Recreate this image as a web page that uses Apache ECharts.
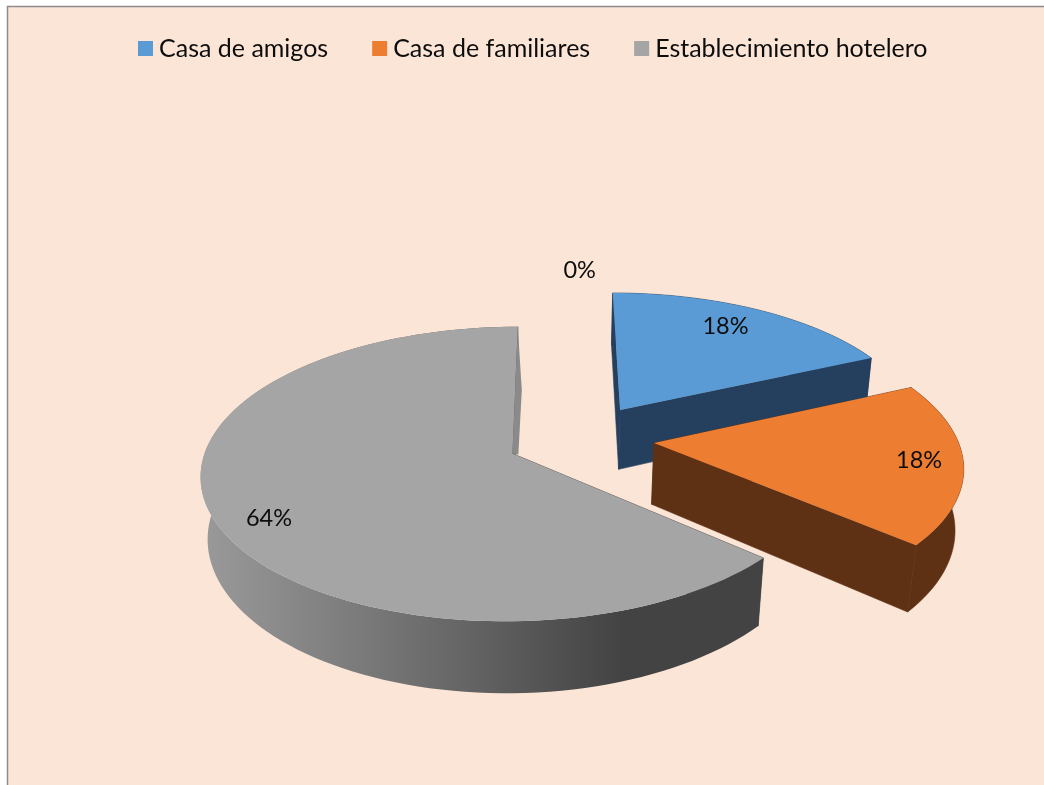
<!DOCTYPE html>
<html>
<head>
<meta charset="utf-8">
<style>html,body{margin:0;padding:0;background:#fff}#c{width:1044px;height:785px}</style>
<script src="https://cdn.jsdelivr.net/npm/echarts@6/dist/echarts.min.js"></script>
</head>
<body>
<div id="c"></div>
<script>
// ---- data ----
var categories = ['Otros', 'Casa de amigos', 'Casa de familiares', 'Establecimiento hotelero'];
var legendNames = ['Casa de amigos', 'Casa de familiares', 'Establecimiento hotelero'];
var values = [0, 18.2, 18.2, 63.6];
var topColors = ['#A5A5A5', '#5B9BD5', '#ED7D31', '#A5A5A5'];
var wallColors = ['#8a8a8a', '#25405E', '#5E3014', '#434343'];

// ---- projection of the tilted pie (layout only) ----
var VIEW = {k: 0.139, g: 308, H: 1040, xv: 557, yv: -586, depth: 62, fallX: 540, fallY: 3500};
var PIE = {centers: [[0.09, -0.34], [0.214, -0.318], [0.318, -0.077], [-0.145, -0.003]]};
var LABEL = {radius: [1.247, 0.83, 0.86, 0.84], skew: [0, -3, -2, -4], dy: 4};
var FONT_SIZE = 23.5;
var FONT = FONT_SIZE + 'px Lato, "Open Sans", sans-serif';

var total = values.reduce(function (a, b) { return a + b; }, 0);
function rad(d) { return d * Math.PI / 180; }
function topPoint(X, Y) {
  var w = 1 / (1 - VIEW.k * Y);
  return [VIEW.xv + VIEW.g * X * w, VIEW.yv + VIEW.H * w, w];
}
function lowPoint(X, Y) {
  var p = topPoint(X, Y);
  var dx = VIEW.fallX - p[0], dy = VIEW.fallY - p[1], n = Math.sqrt(dx * dx + dy * dy);
  return [p[0] + dx / n * VIEW.depth * p[2], p[1] + dy / n * VIEW.depth * p[2]];
}
function sliceGeom(i) {
  var before = 0;
  for (var j = 0; j < i; j++) before += values[j];
  var a0 = before / total * 360, a1 = (before + values[i]) / total * 360, mid = (a0 + a1) / 2;
  return {a0: a0, a1: a1, mid: mid, ox: PIE.centers[i][0], oy: PIE.centers[i][1]};
}
function arcScene(s) {
  var pts = [], n = Math.max(2, Math.ceil((s.a1 - s.a0) / 2));
  for (var t = 0; t <= n; t++) {
    var a = rad(s.a0 + (s.a1 - s.a0) * t / n);
    pts.push([s.ox + Math.sin(a), s.oy - Math.cos(a)]);
  }
  return pts;
}
function poly(points, fill, z, seam) {
  var style = {fill: fill};
  if (seam) { style.stroke = seam; style.lineWidth = 0.6; }
  return {type: 'polygon', z2: z, silent: true, shape: {points: points}, style: style};
}
function grayWall() {
  return new echarts.graphic.LinearGradient(201, 0, 761, 0, [
    {offset: 0, color: '#9A9A9A'},
    {offset: 0.27, color: '#7C7C7C'},
    {offset: 0.52, color: '#5F5F5F'},
    {offset: 0.75, color: '#434343'},
    {offset: 1, color: '#434343'}
  ], true);
}
function makeRender(i) {
  return function (params, api) {
    var s = sliceGeom(i), children = [];
    var pct = Math.round(api.value(0) / total * 100) + '%';
    if (values[i] > 0) {
      var arc = arcScene(s);
      var apexScene = [s.ox, s.oy];
      var tp = function (q) { return topPoint(q[0], q[1]).slice(0, 2); };
      var lp = function (q) { return lowPoint(q[0], q[1]); };
      var first = arc[0], last = arc[arc.length - 1];
      children.push(poly([tp(apexScene), tp(first), lp(first), lp(apexScene)], wallColors[i], 1, wallColors[i]));
      children.push(poly([tp(apexScene), tp(last), lp(last), lp(apexScene)], wallColors[i], 1, wallColors[i]));
      var outerFill = i === 3 ? grayWall() : wallColors[i];
      children.push(poly(arc.map(tp).concat(arc.slice().reverse().map(lp)), outerFill, 2, i === 3 ? null : wallColors[i]));
      children.push(poly([tp(apexScene)].concat(arc.map(tp)), topColors[i], 3));
      // thin shaded sliver along the 12 o'clock cut
      if (i === 3) {
        var b = tp(last), ap = tp(apexScene);
        children.push(poly([b, [b[0] + 4, (b[1] + ap[1]) / 2], [ap[0] + 6, ap[1] + 1], ap], wallColors[0], 4));
      }
    }
    var la = rad(s.mid + LABEL.skew[i]);
    var lr = LABEL.radius[i];
    var lpos = topPoint(s.ox + lr * Math.sin(la), s.oy - lr * Math.cos(la));
    children.push({
      type: 'text', z2: 10, silent: true,
      style: {x: lpos[0], y: lpos[1] + LABEL.dy, text: pct, font: FONT, fill: '#0D0D0D', align: 'center', verticalAlign: 'middle'}
    });
    return {type: 'group', children: children};
  };
}

var chart = echarts.init(document.getElementById('c'));
chart.setOption({
  animation: false,
  backgroundColor: '#FFFFFF',
  color: topColors,
  legend: {
    data: legendNames,
    left: 138, top: 36, padding: 0,
    icon: 'rect', itemWidth: 15, itemHeight: 15, itemGap: 44,
    selectedMode: false,
    textStyle: {fontFamily: 'Lato', fontSize: 25, color: '#0D0D0D', padding: [0, 0, 0, 1]}
  },
  graphic: [{
    type: 'rect', z: -10, silent: true,
    shape: {x: 7.5, y: 6.5, width: 1100, height: 850},
    style: {fill: '#FBE5D6', stroke: '#8C8C8C', lineWidth: 1.5}
  }],
  series: categories.map(function (name, i) {
    return {
      type: 'custom', name: name, coordinateSystem: 'none', clip: false,
      itemStyle: {color: topColors[i]},
      renderItem: makeRender(i),
      data: [[values[i]]]
    };
  })
});
</script>
</body>
</html>
